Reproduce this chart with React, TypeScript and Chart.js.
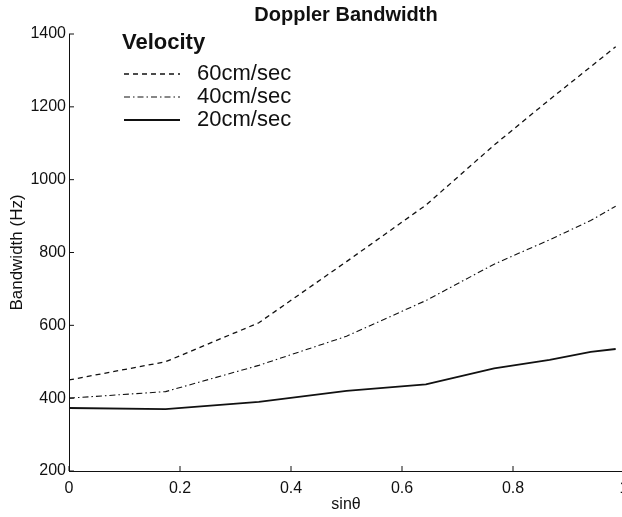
import React, { useEffect, useRef } from "react";
import { Chart, registerables } from "chart.js";
Chart.register(...registerables);

const sinTheta = [0, 0.174, 0.342, 0.5, 0.643, 0.766, 0.866, 0.94, 0.985];
const v60 = [450, 500, 607, 775, 930, 1095, 1220, 1310, 1365];
const v40 = [400, 418, 490, 570, 668, 768, 835, 888, 927];
const v20 = [373, 370, 390, 420, 438, 482, 505, 527, 535];
const seriesNames = ["60cm/sec", "40cm/sec", "20cm/sec"];
const xTicks = [0, 0.2, 0.4, 0.6, 0.8, 1];
const yTicks = [200, 400, 600, 800, 1000, 1200, 1400];

const FONT = "'Liberation Sans', Arial, Helvetica, sans-serif";
const dashes = [[5, 4], [6, 3, 1.5, 3], []];
const widths = [1.3, 1.1, 1.8];

const decorPlugin = {
  id: "decor",
  afterDraw(chart: any) {
    const ctx = chart.ctx;
    const { left, right, top, bottom } = chart.chartArea;
    const xs = chart.scales.x;
    const ys = chart.scales.y;
    ctx.save();
    ctx.strokeStyle = "#111";
    ctx.lineWidth = 1;
    xTicks.forEach((t) => {
      const px = xs.getPixelForValue(t);
      ctx.beginPath();
      ctx.moveTo(px, bottom);
      ctx.lineTo(px, bottom - 5);
      ctx.stroke();
    });
    yTicks.forEach((t) => {
      const py = ys.getPixelForValue(t);
      ctx.beginPath();
      ctx.moveTo(left, py);
      ctx.lineTo(left + 5, py);
      ctx.stroke();
    });
    ctx.fillStyle = "#111";
    ctx.textAlign = "center";
    ctx.textBaseline = "middle";
    ctx.font = `bold 20px ${FONT}`;
    ctx.fillText("Doppler Bandwidth", 346, 15);
    ctx.font = `16px ${FONT}`;
    ctx.fillText("sin\u03B8", 346, bottom + 34);
    ctx.save();
    ctx.translate(17, (top + bottom) / 2);
    ctx.rotate(-Math.PI / 2);
    ctx.font = `17px ${FONT}`;
    ctx.fillText("Bandwidth (Hz)", 0, 0);
    ctx.restore();
    ctx.textAlign = "left";
    ctx.font = `bold 22px ${FONT}`;
    ctx.fillText("Velocity", 122, 43);
    ctx.font = `22px ${FONT}`;
    const rows = [74, 97, 120];
    seriesNames.forEach((name, i) => {
      ctx.save();
      ctx.setLineDash(dashes[i]);
      ctx.lineWidth = widths[i];
      ctx.beginPath();
      ctx.moveTo(124, rows[i]);
      ctx.lineTo(180, rows[i]);
      ctx.stroke();
      ctx.restore();
      ctx.fillText(name, 197, rows[i]);
    });
    ctx.restore();
  },
};

export default function App() {
  const ref = useRef<HTMLCanvasElement>(null);
  useEffect(() => {
    if (!ref.current) return;
    const series = [v60, v40, v20];
    const chart = new Chart(ref.current, {
      type: "line",
      data: {
        datasets: series.map((vals, i) => ({
          label: seriesNames[i],
          data: sinTheta.map((x, j) => ({ x, y: vals[j] })),
          borderColor: "#111",
          borderWidth: widths[i],
          borderDash: dashes[i],
          pointRadius: 0,
          tension: 0,
          fill: false,
        })),
      },
      options: {
        animation: false,
        responsive: false,
        devicePixelRatio: 1,
        layout: { padding: { top: 34, right: 16, left: 0, bottom: 0 } },
        plugins: { legend: { display: false }, title: { display: false }, tooltip: { enabled: false } },
        scales: {
          x: {
            type: "linear",
            min: 0,
            max: 1,
            afterFit: (s: any) => { s.height = 46; },
            afterBuildTicks: (s: any) => { s.ticks = xTicks.map((v) => ({ value: v })); },
            grid: { drawOnChartArea: false, drawTicks: false },
            border: { display: true, color: "#111", width: 1 },
            ticks: {
              padding: 8,
              color: "#111",
              font: { family: FONT, size: 16 },
              callback: (v: any) => String(v),
              maxRotation: 0,
              autoSkip: false,
            },
          },
          y: {
            type: "linear",
            min: 200,
            max: 1400,
            afterFit: (s: any) => { s.width = 69; },
            afterBuildTicks: (s: any) => { s.ticks = yTicks.map((v) => ({ value: v })); },
            grid: { drawOnChartArea: false, drawTicks: false },
            border: { display: true, color: "#111", width: 1 },
            ticks: {
              padding: 3,
              color: "#111",
              font: { family: FONT, size: 16 },
              callback: (v: any) => String(v),
              autoSkip: false,
            },
          },
        },
      },
      plugins: [decorPlugin],
    });
    return () => chart.destroy();
  }, []);
  return (
    <div style={{ position: "fixed", left: 0, top: 0, width: 622, height: 517, overflow: "hidden", background: "#fff" }}>
      <canvas ref={ref} width={640} height={517} style={{ display: "block" }} />
    </div>
  );
}
